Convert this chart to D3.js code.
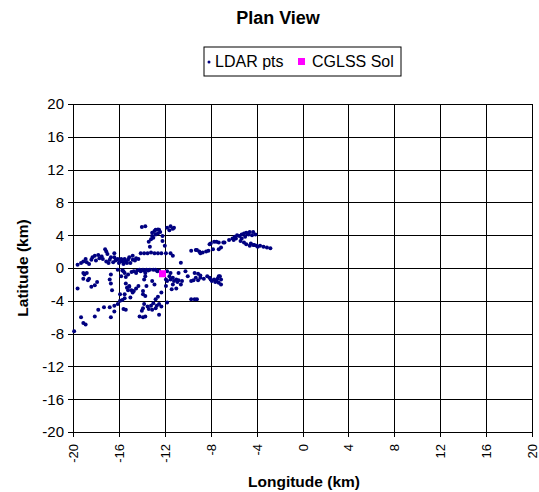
<!DOCTYPE html>
<html>
<head>
<meta charset="utf-8">
<script src="https://cdn.jsdelivr.net/npm/d3@7"></script>
<style>
  body { margin: 0; background: #fff; }
  text { font-family: Arial, "Liberation Sans", sans-serif; fill: #000; }
  .grid line { stroke: #000; stroke-width: 1; shape-rendering: crispEdges; }
  .axis path, .axis line { stroke: #000; shape-rendering: crispEdges; }
</style>
</head>
<body>
<script>
// tick values for both axes (km)
var ticks = [-20, -16, -12, -8, -4, 0, 4, 8, 12, 16, 20];

// LDAR points [lon, lat], grouped by cluster
var ldarWest = [
  [-19.9,-7.7],[-19.3,-6.0],[-19.1,-6.7],[-18.9,-6.9],[-18.1,-5.9],[-17.8,-5.1],[-17.3,-4.8],
  [-16.8,-4.8],[-16.4,-4.6],[-16.4,-5.3],[-16.7,-6.0],[-16.1,-4.4],[-15.9,-4.0],[-15.7,-3.9],
  [-15.5,-3.7],[-15.4,-5.1],[-15.6,-5.0],[-19.6,-2.5],[-19.1,-1.3],[-19.0,-0.8],[-18.8,-0.6],
  [-19.1,-0.6],[-18.7,-1.5],[-18.6,-1.3],[-18.4,-2.3],[-18.1,-2.1],[-17.9,-1.7],[-16.7,-1.9],
  [-16.8,-1.4],[-16.7,-0.8],[-16.6,-2.7],[-16.1,-0.2],[-15.7,-0.3],[-15.9,-3.2],[-15.5,-0.6],
  [-15.4,-1.1],[-15.2,-0.8],[-15.4,-1.9],[-15.5,-3.2],[-15.1,-2.3],[-14.9,-2.7],[-15.2,-2.7],
  [-15.0,-3.6],[-14.8,-3.0],[-14.7,-2.8],[-14.5,-2.5],[-14.3,-2.2],[-15.3,-2.4],[-15.1,-2.2],
  [-15.8,-1.0],[-15.6,-0.4]
];
var ldarWestTop = [
  [-19.6,0.4],[-19.3,0.6],[-19.1,0.8],[-18.9,1.1],[-18.8,0.7],[-18.6,0.5],[-18.4,1.0],[-18.3,1.3],
  [-18.1,1.5],[-17.8,1.6],[-17.5,1.4],[-17.2,2.3],[-17.1,2.0],[-17.0,1.7],[-17.4,1.1],[-17.1,0.8],
  [-16.8,1.0],[-16.7,1.3],[-16.4,1.8],[-16.4,1.3],[-16.2,1.0],[-16.1,1.1],[-15.9,0.8],[-15.8,1.1],
  [-15.7,0.8],[-15.5,1.1],[-15.4,0.8],[-15.2,1.0],[-15.1,1.3],[-15.0,0.6],[-14.8,1.5],[-14.8,1.0],
  [-16.9,0.6],[-16.5,0.7],[-16.0,0.6],[-15.6,0.5],[-14.5,1.2],[-14.3,1.1],[-14.1,1.8],[-13.8,1.8],
  [-13.5,1.8],[-13.2,1.9],[-12.9,1.8],[-12.6,1.8],[-12.3,1.8],[-11.9,1.8],[-11.5,1.8],[-11.3,1.5],
  [-16.3,0.9],[-15.3,0.6],[-14.6,0.9],[-17.7,1.2],[-18.0,0.9]
];
var ldarCentralNorth = [
  [-14.0,5.0],[-13.7,5.1],[-13.1,4.3],[-12.9,4.5],[-12.8,4.65],[-12.6,4.7],[-12.5,4.65],[-12.8,4.1],
  [-13.1,3.9],[-13.0,3.7],[-12.6,4.2],[-12.4,4.4],[-12.2,3.9],[-13.2,3.5],[-13.4,3.2],[-12.2,3.3],
  [-12.0,2.7],[-13.3,2.6],[-11.8,4.9],[-11.5,5.1],[-11.3,4.8],[-11.2,4.9],[-11.6,4.6]
];
var ldarCentralMid = [
  [-14.7,-0.4],[-14.4,-0.3],[-14.2,-0.2],[-13.9,-0.2],[-13.6,-0.2],[-13.3,-0.2],[-13.0,-0.2],
  [-12.8,-0.2],[-12.5,-0.3],[-14.5,-0.6],[-11.8,-0.4],[-11.5,-0.6],[-11.6,-1.0],[-11.9,-1.4],
  [-11.8,-1.6],[-11.5,-1.4],[-11.3,-1.2],[-11.2,-1.6],[-11.0,-1.4],[-10.9,-1.7],[-10.8,-1.5],
  [-10.6,-2.0],[-10.5,-1.6],[-10.8,-0.6],[-10.2,-0.4],[-10.0,-1.0],[-10.6,0.65],[-11.3,-2.0],
  [-11.0,-2.5],[-11.4,-2.6],[-11.9,-2.2],[-14.9,-0.5],[-14.1,-0.4],[-13.45,-0.3],[-12.65,-0.4],
  [-13.8,-0.35]
];
var ldarCentralSouth = [
  [-13.7,-0.6],[-13.7,-1.0],[-13.8,-1.4],[-13.6,-2.2],[-13.1,-1.6],[-12.9,-2.0],[-13.9,-2.8],
  [-13.9,-3.2],[-13.7,-3.4],[-12.6,-3.5],[-12.8,-3.8],[-12.3,-3.0],[-13.8,-4.4],[-13.5,-4.7],
  [-13.9,-4.9],[-13.4,-5.0],[-13.1,-5.1],[-12.8,-4.9],[-12.5,-4.4],[-12.3,-4.7],[-13.7,-5.9],
  [-13.9,-6.0],[-14.2,-5.9],[-12.5,-5.7],[-13.2,-4.6],[-13.0,-4.3],[-12.7,-4.6],[-14.0,-5.2],
  [-11.8,-4.2]
];
var ldarEastLow = [
  [-9.7,-1.6],[-9.5,-1.5],[-9.3,-1.2],[-9.4,-0.6],[-9.1,-1.5],[-8.9,-1.2],[-8.6,-1.3],[-8.3,-1.0],
  [-8.1,-1.2],[-8.0,-1.4],[-7.9,-1.6],[-7.7,-1.4],[-7.6,-1.7],[-7.5,-1.6],[-7.3,-1.8],[-7.1,-1.4],
  [-7.1,-2.0],[-7.2,-1.0],[-9.1,-0.7],[-8.9,-0.9],[-7.4,-1.3],[-7.3,-1.0],[-9.7,-3.8],[-9.4,-3.8],
  [-9.2,-3.8]
];
var ldarEastNorth = [
  [-9.7,2.1],[-9.2,2.2],[-9.0,2.0],[-8.7,1.9],[-8.4,2.0],[-8.2,2.1],[-8.1,2.9],[-7.8,2.3],[-7.5,3.2],
  [-7.3,3.1],[-7.3,2.3],[-7.1,2.5],[-9.3,2.2],[-8.9,1.8],[-8.0,3.0],[-7.7,3.2],[-6.9,3.1],[-6.4,3.4],
  [-6.1,3.6],[-5.9,3.8],[-5.7,4.0],[-5.5,3.9],[-5.3,4.1],[-5.1,4.2],[-4.9,4.3],[-4.6,4.4],[-4.3,4.4],
  [-4.4,4.0],[-4.7,4.1],[-5.0,3.8],[-5.3,3.6],[-5.4,3.3],[-5.1,3.1],[-4.9,2.9],[-4.6,2.7],[-4.3,2.8],
  [-4.0,2.7],[-3.7,2.7],[-3.4,2.6],[-3.1,2.5],[-2.8,2.4],[-6.8,3.1],[-6.0,3.4],[-5.8,3.6],[-4.2,2.8],
  [-3.9,2.6],[-4.5,3.0],[-4.1,4.1],[-4.8,4.2]
];
var cglss = [[-12.2, -0.7]];

var ldar = [].concat(ldarWest, ldarWestTop, ldarCentralNorth, ldarCentralMid,
                     ldarCentralSouth, ldarEastLow, ldarEastNorth);

var margin = {top: 104, right: 7, bottom: 60, left: 73}
  , W = 539, H = 492
  , width = W - margin.left - margin.right
  , height = H - margin.top - margin.bottom;

var xScale = d3.scaleLinear().domain([-20, 20]).range([0, width]);
var yScale = d3.scaleLinear().domain([-20, 20]).range([height, 0]);

var svg = d3.select('body').append('svg')
    .attr('width', W)
    .attr('height', H);

svg.append('text')
    .attr('x', 278).attr('y', 24)
    .attr('text-anchor', 'middle')
    .style('font-size', '18px').style('font-weight', 'bold')
    .text('Plan View');

// legend
var leg = svg.append('g').attr('transform', 'translate(204,47)');
leg.append('rect').attr('width', 197).attr('height', 29)
    .attr('fill', '#fff').attr('stroke', '#000');
leg.append('circle').attr('cx', 5).attr('cy', 15).attr('r', 1.5).attr('fill', '#000080');
leg.append('text').attr('x', 11).attr('y', 20).style('font-size', '16px').text('LDAR pts');
leg.append('rect').attr('x', 94).attr('y', 11).attr('width', 7).attr('height', 7).attr('fill', '#ff00ff');
leg.append('text').attr('x', 108).attr('y', 20).style('font-size', '16px').text('CGLSS Sol');

var g = svg.append('g')
    .attr('transform', 'translate(' + margin.left + ',' + margin.top + ')');

// grid
g.append('g').attr('class', 'grid')
  .selectAll('line.v').data(ticks).enter().append('line')
    .attr('x1', function(d) { return Math.round(xScale(d)) + 0.5 })
    .attr('x2', function(d) { return Math.round(xScale(d)) + 0.5 })
    .attr('y1', 0).attr('y2', height);
g.select('.grid')
  .selectAll('line.h').data(ticks).enter().append('line')
    .attr('y1', function(d) { return Math.round(yScale(d)) + 0.5 })
    .attr('y2', function(d) { return Math.round(yScale(d)) + 0.5 })
    .attr('x1', 0).attr('x2', width);

g.append('g')
    .attr('class', 'axis')
    .call(d3.axisLeft(yScale).tickValues(ticks).tickSize(5).tickSizeOuter(0).tickPadding(4)
          .tickFormat(function(d) { return String(d) }))
    .selectAll('text').style('font-size', '15px');

var xAxis = g.append('g')
    .attr('class', 'axis')
    .attr('transform', 'translate(0,' + height + ')')
    .call(d3.axisBottom(xScale).tickValues(ticks).tickSize(5).tickSizeOuter(0)
          .tickFormat(function(d) { return String(d) }));
xAxis.selectAll('text')
    .style('font-size', '13px')
    .attr('transform', 'rotate(-90)')
    .attr('x', -12).attr('y', 0).attr('dy', '0.35em')
    .attr('text-anchor', 'end');

// points
g.append('g').selectAll('circle')
    .data(ldar).enter().append('circle')
    .attr('cx', function(d) { return xScale(d[0]) })
    .attr('cy', function(d) { return yScale(d[1]) })
    .attr('r', 2)
    .attr('fill', '#000080');

g.append('g').selectAll('rect')
    .data(cglss).enter().append('rect')
    .attr('x', function(d) { return xScale(d[0]) - 3.5 })
    .attr('y', function(d) { return yScale(d[1]) - 3.5 })
    .attr('width', 7).attr('height', 7)
    .attr('fill', '#ff00ff');

// axis titles
svg.append('text')
    .attr('x', 304).attr('y', 487)
    .attr('text-anchor', 'middle')
    .style('font-size', '15.5px').style('font-weight', 'bold')
    .text('Longitude (km)');

svg.append('text')
    .attr('transform', 'translate(28,' + (margin.top + height / 2) + ') rotate(-90)')
    .attr('text-anchor', 'middle')
    .style('font-size', '15.5px').style('font-weight', 'bold')
    .text('Latitude (km)');
</script>
</body>
</html>
